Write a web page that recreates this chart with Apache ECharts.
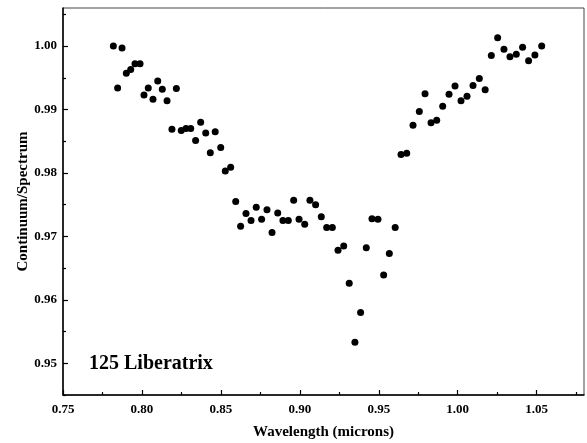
<!DOCTYPE html>
<html>
<head>
<meta charset="utf-8">
<script src="https://cdn.jsdelivr.net/npm/echarts@6/dist/echarts.min.js"></script>
<style>html,body{margin:0;padding:0;background:#fff}#c{width:587px;height:443px}</style>
</head>
<body>
<div id="c"></div>
<script>
const wavelengths = [
  0.7819, 0.7846, 0.7874, 0.7901, 0.7929, 0.7956, 0.7988, 0.8013, 0.8040, 0.8070,
  0.8100, 0.8129, 0.8159, 0.8190, 0.8218, 0.8249, 0.8279, 0.8309, 0.8340, 0.8372,
  0.8404, 0.8433, 0.8464, 0.8499, 0.8528, 0.8562, 0.8594, 0.8625, 0.8659, 0.8691,
  0.8724, 0.8758, 0.8792, 0.8824, 0.8860, 0.8893, 0.8927, 0.8961, 0.8995, 0.9031,
  0.9064, 0.9100, 0.9136, 0.9170, 0.9206, 0.9242, 0.9278, 0.9313, 0.9349, 0.9385,
  0.9421, 0.9457, 0.9495, 0.9531, 0.9567, 0.9604, 0.9641, 0.9677, 0.9717, 0.9757,
  0.9793, 0.9831, 0.9867, 0.9905, 0.9945, 0.9983, 1.0021, 1.0059, 1.0097, 1.0137,
  1.0174, 1.0213, 1.0253, 1.0293, 1.0331, 1.0371, 1.0411, 1.0449, 1.0489, 1.0532
];
const ratios = [
  1.0000, 0.9934, 0.9997, 0.9957, 0.9963, 0.9972, 0.9972, 0.9923, 0.9934, 0.9916,
  0.9945, 0.9932, 0.9914, 0.9869, 0.9933, 0.9867, 0.9870, 0.9870, 0.9851, 0.9880,
  0.9863, 0.9832, 0.9865, 0.9840, 0.9803, 0.9809, 0.9755, 0.9716, 0.9736, 0.9725,
  0.9746, 0.9727, 0.9742, 0.9706, 0.9737, 0.9725, 0.9725, 0.9757, 0.9727, 0.9719,
  0.9757, 0.9750, 0.9731, 0.9714, 0.9714, 0.9678, 0.9685, 0.9626, 0.9533, 0.9580,
  0.9682, 0.9728, 0.9727, 0.9639, 0.9673, 0.9714, 0.9829, 0.9831, 0.9875, 0.9897,
  0.9925, 0.9879, 0.9883, 0.9905, 0.9924, 0.9937, 0.9914, 0.9921, 0.9938, 0.9949,
  0.9931, 0.9985, 1.0013, 0.9995, 0.9983, 0.9987, 0.9998, 0.9977, 0.9986, 1.0000
];
const xTicks = [0.75, 0.80, 0.85, 0.90, 0.95, 1.00, 1.05];
const xMinorTicks = [0.775, 0.825, 0.875, 0.925, 0.975, 1.025, 1.075];
const yTicks = [0.95, 0.96, 0.97, 0.98, 0.99, 1.00];
const yMinorTicks = [0.945, 0.955, 0.965, 0.975, 0.985, 0.995, 1.005];
const objectName = '125 Liberatrix';

const font = 'Liberation Serif';
const points = wavelengths.map((w, i) => [w, ratios[i]]);
const chart = echarts.init(document.getElementById('c'), null, {renderer: 'canvas'});
const baseX = {
  type: 'value', min: 0.75, max: 1.08,
  splitLine: {show: false},
  axisLine: {show: true, onZero: false, lineStyle: {color: '#000', width: 1.5}}
};
const baseY = {
  type: 'value', min: 0.945, max: 1.006,
  splitLine: {show: false},
  axisLine: {show: true, onZero: false, lineStyle: {color: '#000', width: 1.5}}
};
chart.setOption({
  animation: false,
  backgroundColor: '#fff',
  title: {
    text: objectName, left: 84, top: 349,
    textStyle: {fontFamily: font, fontWeight: 'bold', fontSize: 20, color: '#000'}
  },
  grid: {left: 63, right: 3, top: 8, bottom: 48, show: true, borderColor: '#444', borderWidth: 1,
    containLabel: false, outerBoundsMode: 'none'},
  xAxis: [
    Object.assign({}, baseX, {
      name: 'Wavelength (microns)', nameLocation: 'middle', nameGap: 30,
      nameTextStyle: {fontFamily: font, fontWeight: 'bold', fontSize: 15, color: '#000'},
      axisTick: {show: true, inside: true, length: 5, customValues: xTicks, lineStyle: {color: '#000', width: 1.2}},
      axisLabel: {show: true, customValues: xTicks, margin: 8, fontFamily: font, fontWeight: 'bold', fontSize: 13, color: '#000',
        formatter: v => v.toFixed(2)}
    }),
    Object.assign({}, baseX, {
      position: 'bottom',
      axisLine: {show: false},
      axisTick: {show: true, inside: true, length: 3, customValues: xMinorTicks, lineStyle: {color: '#000', width: 1.2}},
      axisLabel: {show: false}
    })
  ],
  yAxis: [
    Object.assign({}, baseY, {
      name: 'Continuum/Spectrum', nameLocation: 'middle', nameGap: 32, nameRotate: 90, nameMoveOverlap: false,
      nameTextStyle: {fontFamily: font, fontWeight: 'bold', fontSize: 15, color: '#000'},
      axisTick: {show: true, inside: true, length: 5, customValues: yTicks, lineStyle: {color: '#000', width: 1.2}},
      axisLabel: {show: true, customValues: yTicks, margin: 6, fontFamily: font, fontWeight: 'bold', fontSize: 13, color: '#000',
        formatter: v => v.toFixed(2)}
    }),
    Object.assign({}, baseY, {
      position: 'left',
      axisLine: {show: false},
      axisTick: {show: true, inside: true, length: 3, customValues: yMinorTicks, lineStyle: {color: '#000', width: 1.2}},
      axisLabel: {show: false}
    })
  ],
  series: [{
    type: 'scatter', xAxisIndex: 0, yAxisIndex: 0,
    data: points, symbol: 'circle', symbolSize: 7,
    itemStyle: {color: '#000', opacity: 1}
  }]
});
</script>
</body>
</html>
